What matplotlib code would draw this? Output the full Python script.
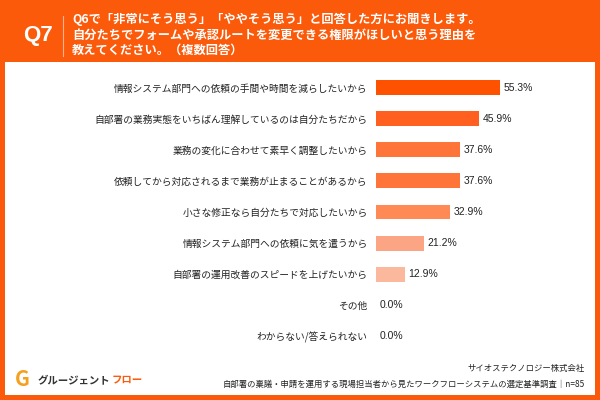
import matplotlib.pyplot as plt

plt.rcParams['font.family'] = ['Noto Sans CJK JP', 'DejaVu Sans']

labels = [
    "情報システム部門への依頼の手間や時間を減らしたいから",
    "自部署の業務実態をいちばん理解しているのは自分たちだから",
    "業務の変化に合わせて素早く調整したいから",
    "依頼してから対応されるまで業務が止まることがあるから",
    "小さな修正なら自分たちで対応したいから",
    "情報システム部門への依頼に気を遣うから",
    "自部署の運用改善のスピードを上げたいから",
    "その他",
    "わからない/答えられない",
]
values = [55.3, 45.9, 37.6, 37.6, 32.9, 21.2, 12.9, 0.0, 0.0]
bar_colors = ["#FF5200", "#FF6020", "#FF7438", "#FF7438", "#FF8A55", "#FCA584", "#FBB89C", "#FBB89C", "#FBB89C"]

ORANGE = "#FA5A0A"
fig = plt.figure(figsize=(6, 4), dpi=100)
fig.patch.set_facecolor(ORANGE)

# white panel
bg = fig.add_axes([5/600, 5/400, 590/600, 333/400], zorder=-1)
bg.set_facecolor("white")
bg.set_xticks([])
bg.set_yticks([])
for s in bg.spines.values():
    s.set_visible(False)

# header
fig.text(38/600, 1 - 36/400, "Q7", color="white", fontsize=16, fontweight="bold",
         ha="center", va="center", family=['Liberation Sans', 'DejaVu Sans'])
fig.add_artist(plt.Line2D([63/600, 63/600], [1 - 16/400, 1 - 56/400], color="#FFB090", lw=0.8))
fig.text(72/600, 1 - 35/400,
         "Q6で「非常にそう思う」「ややそう思う」と回答した方にお聞きします。\n"
         "自分たちでフォームや承認ルートを変更できる権限がほしいと思う理由を\n"
         "教えてください。（複数回答）",
         color="white", fontsize=8.8, fontweight="bold", ha="left", va="center", linespacing=1.25)

# chart
ax = fig.add_axes([376/600, 1 - 352/400, 200/600, 280/400])
ax.patch.set_alpha(0)
y = list(range(len(labels)))
ax.barh(y, values, height=0.48, color=bar_colors)
ax.set_ylim(len(labels) - 0.5, -0.5)
ax.set_xlim(0, 89)
ax.set_yticks(y)
ax.set_yticklabels(labels, fontsize=7, color="#222222")
ax.tick_params(axis='y', length=0, pad=6)
ax.set_xticks([])
for s in ax.spines.values():
    s.set_visible(False)
for yi, v in zip(y, values):
    ax.text(v + 1.5, yi, f"{v:.1f}%", va="center", ha="left", fontsize=7.5, color="#222222",
            family=['Liberation Sans', 'DejaVu Sans'])

# footer
fig.text(22/600, 20/400, "G", color="#F5A020", fontsize=15, fontweight="bold", ha="center", va="center")
fig.text(38/600, 20/400, "グルージェント", color="#333333", fontsize=7.5, fontweight="bold", va="center")
fig.text(112/600, 20/400, "フロー", color=ORANGE, fontsize=7.5, fontweight="bold", va="center")
fig.text(585/600, 31/400, "サイオステクノロジー株式会社", fontsize=6, ha="right", va="center", color="#222222")
fig.text(585/600, 16/400, "自部署の稟議・申請を運用する現場担当者から見たワークフローシステムの選定基準調査｜n=85",
         fontsize=6, ha="right", va="center", color="#222222")

fig.savefig("out.png", dpi=100, facecolor=fig.get_facecolor())
